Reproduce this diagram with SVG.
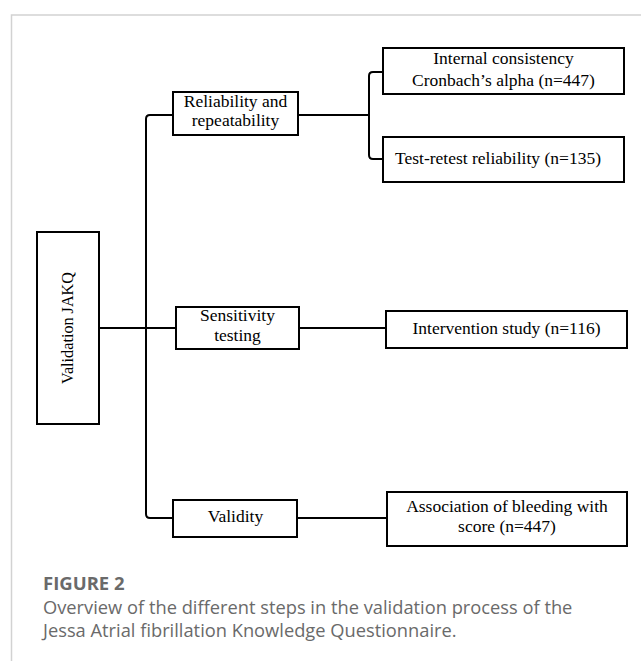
<svg xmlns="http://www.w3.org/2000/svg" width="641" height="661" viewBox="0 0 641 661">
<style>
.box{fill:#fff;stroke:#000;stroke-width:2}
.t{font-family:"Liberation Serif","Times New Roman",serif;font-size:17.5px;fill:#000;text-anchor:middle}
.c{fill:none;stroke:#000;stroke-width:2}
.cap{font-family:"Open Sans","Liberation Sans",sans-serif;fill:#6a6a6a}
</style>
<rect width="641" height="661" fill="#fff"/>
<path d="M11.5,661 L11.5,15 L641,15" fill="none" stroke="#d2d2d2" stroke-width="1.5"/>
<g id="connectors">
<path class="c" d="M173,115 L150,115 Q146,115 146,119 L146,514 Q146,518 150,518 L173,518"/>
<path class="c" d="M99,328 L176,328"/>
<path class="c" d="M298,115 L369,115"/>
<path class="c" d="M383,72 L373,72 Q369,72 369,76 L369,155 Q369,159 373,159 L383,159"/>
<path class="c" d="M299,328 L386,328"/>
<path class="c" d="M297,518 L387,518"/>
</g>
<g id="validation">
<rect class="box" x="37" y="232" width="62" height="192"/>
<text class="t" style="font-size:16.2px" transform="translate(73,328) rotate(-90)" text-anchor="middle">Validation JAKQ</text>
</g>
<g id="reliability">
<rect class="box" x="173" y="92" width="125" height="43"/>
<text class="t" x="235.5" y="106.5">Reliability and</text>
<text class="t" x="235.5" y="126">repeatability</text>
</g>
<g id="sensitivity">
<rect class="box" x="176" y="307" width="123" height="42"/>
<text class="t" x="237.5" y="321">Sensitivity</text>
<text class="t" x="237.5" y="341">testing</text>
</g>
<g id="validity">
<rect class="box" x="173" y="500" width="124" height="37"/>
<text class="t" x="235.5" y="522">Validity</text>
</g>
<g id="internal">
<rect class="box" x="383" y="48" width="241" height="46"/>
<text class="t" x="503.5" y="64">Internal consistency</text>
<text class="t" x="503.5" y="86">Cronbach’s alpha (n=447)</text>
</g>
<g id="testretest">
<rect class="box" x="383" y="137" width="241" height="45"/>
<text class="t" x="498" y="164">Test-retest reliability (n=135)</text>
</g>
<g id="intervention">
<rect class="box" x="386" y="311" width="241" height="37"/>
<text class="t" x="506.5" y="334">Intervention study (n=116)</text>
</g>
<g id="association">
<rect class="box" x="387" y="492" width="240" height="54"/>
<text class="t" x="507" y="512">Association of bleeding with</text>
<text class="t" x="507" y="531.5">score (n=447)</text>
</g>
<g id="caption">
<text class="cap" x="43" y="590" font-size="18.5" font-weight="bold">FIGURE 2</text>
<text class="cap" x="43" y="614" font-size="18.3">Overview of the different steps in the validation process of the</text>
<text class="cap" x="43" y="637" font-size="18.3">Jessa Atrial fibrillation Knowledge Questionnaire.</text>
</g>
</svg>
